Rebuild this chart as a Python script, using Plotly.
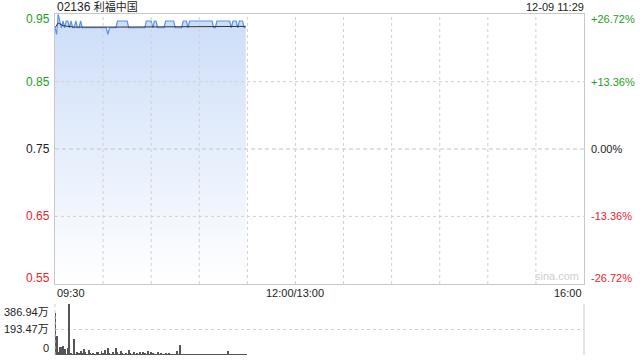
import plotly.graph_objects as go

# ---------------- data ----------------
stock_code = "02136"
stock_name = "利福中国"
timestamp = "12-09 11:29"
prev_close = 0.75
price_ticks = [0.95, 0.85, 0.75, 0.65, 0.55]
pct_labels = ["+26.72%", "+13.36%", "0.00%", "-13.36%", "-26.72%"]
time_labels = ["09:30", "12:00/13:00", "16:00"]
time_label_minutes = [0, 150, 330]
grid_minutes = [30, 60, 90, 120, 150, 180, 210, 240, 270, 300]
session_minutes = 330

# per-minute last price from 09:30 to 11:29
prices = [
    0.93, 0.92, 0.95, 0.94, 0.93, 0.94, 0.93, 0.94, 0.94, 0.93,
    0.94, 0.93, 0.93, 0.94, 0.93, 0.93, 0.94, 0.93, 0.93, 0.93,
    0.93, 0.93, 0.93, 0.93, 0.93, 0.93, 0.93, 0.93, 0.93, 0.93,
    0.93, 0.93, 0.93, 0.92, 0.93, 0.93, 0.93, 0.93, 0.93, 0.94,
    0.94, 0.94, 0.94, 0.94, 0.94, 0.94, 0.93, 0.93, 0.93, 0.93,
    0.93, 0.93, 0.93, 0.93, 0.93, 0.93, 0.93, 0.94, 0.94, 0.94,
    0.94, 0.93, 0.94, 0.94, 0.93, 0.93, 0.93, 0.93, 0.93, 0.94,
    0.94, 0.94, 0.94, 0.94, 0.94, 0.93, 0.93, 0.93, 0.93, 0.93,
    0.94, 0.94, 0.94, 0.93, 0.94, 0.94, 0.94, 0.94, 0.94, 0.94,
    0.94, 0.94, 0.94, 0.94, 0.94, 0.94, 0.94, 0.94, 0.94, 0.93,
    0.93, 0.94, 0.94, 0.94, 0.94, 0.94, 0.94, 0.94, 0.94, 0.94,
    0.93, 0.94, 0.94, 0.94, 0.93, 0.94, 0.94, 0.94, 0.93, 0.93,
]
avg_minutes = [0, 2, 5, 12, 40, 119]
avg_prices = [0.930, 0.937, 0.933, 0.931, 0.931, 0.932]

# per-minute volume, 万
volumes = [
    321, 144, 20, 63, 58, 68, 43, 10, 50, 387,
    18, 8, 121, 10, 25, 12, 30, 18, 43, 25,
    10, 38, 13, 8, 18, 6, 23, 25, 8, 28,
    18, 38, 10, 50, 13, 8, 23, 10, 55, 20,
    8, 28, 13, 6, 13, 8, 38, 18, 8, 25,
    10, 18, 6, 23, 8, 23, 13, 8, 30, 10,
    20, 13, 10, 10, 25, 6, 13, 6, 10, 13,
    6, 15, 6, 8, 10, 6, 30, 8, 76, 8,
    8, 5, 6, 5, 6, 5, 5, 6, 5, 5,
    6, 5, 5, 6, 5, 6, 5, 5, 6, 5,
    5, 6, 5, 5, 6, 5, 8, 6, 30, 6,
    5, 6, 5, 5, 6, 5, 5, 6, 5, 5,
]
vol_ticks = [386.94, 193.47, 0]
vol_tick_text = ["386.94万", "193.47万", "0"]

# ---------------- styles ----------------
FONT = "Liberation Sans, Arial, sans-serif"
CJK = "Liberation Sans, Noto Sans CJK SC, sans-serif"
GREEN = "#1e9e1e"
RED = "#e8262a"
BLACK = "#222222"
GRID = "#d0d0d0"
BORDER = "#c8c8c8"

minutes = list(range(len(prices)))
y_lo = prev_close * (1 - 0.2672)
y_hi = prev_close * (1 + 0.2672)

fig = go.Figure()

fig.add_trace(go.Scatter(
    x=minutes, y=prices, mode="lines",
    line=dict(color="#5b92e8", width=1.2),
    fill="tozeroy",
    fillgradient=dict(type="vertical", start=0.55, stop=0.95,
                      colorscale=[[0, "rgba(255,255,255,1)"], [1, "rgba(204,221,248,1)"]]),
    xaxis="x", yaxis="y", hoverinfo="skip", showlegend=False,
))
fig.add_trace(go.Scatter(
    x=avg_minutes, y=avg_prices, mode="lines",
    line=dict(color="#333333", width=1),
    xaxis="x", yaxis="y", hoverinfo="skip", showlegend=False,
))
fig.add_trace(go.Bar(
    x=minutes, y=volumes, width=0.6,
    marker=dict(color="#555555", line=dict(width=0)),
    xaxis="x2", yaxis="y2", hoverinfo="skip", showlegend=False,
))

ann = []
# title and time stamp
ann.append(dict(text=f"{stock_code} <span style='font-size:11px'>{stock_name}</span>",
                xref="paper", yref="paper", x=0, y=1, yanchor="bottom",
                xanchor="left", showarrow=False, yshift=-2,
                font=dict(family=CJK, size=12, color=BLACK)))
ann.append(dict(text=timestamp, xref="paper", yref="paper", x=1, y=1, yanchor="bottom",
                xanchor="right", showarrow=False, yshift=-1, xshift=2,
                font=dict(family=FONT, size=11, color=BLACK)))

shifts = [-5, 0, 0, 0, 6]
for v, pl, s in zip(price_ticks, pct_labels, shifts):
    col = GREEN if v > prev_close + 1e-9 else (RED if v < prev_close - 1e-9 else BLACK)
    ann.append(dict(text=f"{v:.2f}", xref="paper", yref="y", x=0, y=v, xanchor="right",
                    yanchor="middle", xshift=-3, yshift=s, showarrow=False,
                    font=dict(family=FONT, size=12, color=col)))
    ann.append(dict(text=pl, xref="paper", yref="y", x=1, y=v, xanchor="left",
                    yanchor="middle", xshift=5, yshift=s, showarrow=False,
                    font=dict(family=FONT, size=11, color=col)))

anchors = ["left", "center", "right"]
for t, m, a in zip(time_labels, time_label_minutes, anchors):
    ann.append(dict(text=t, xref="x", yref="paper", x=m, y=0.2082, yanchor="top",
                    xanchor=a, yshift=-1, showarrow=False,
                    font=dict(family=FONT, size=11, color=BLACK)))

vshifts = [-8, 0, 7]
for v, t, s in zip(vol_ticks, vol_tick_text, vshifts):
    ann.append(dict(text=t, xref="paper", yref="y2", x=0, y=v, xanchor="right",
                    yanchor="middle", xshift=-4, yshift=s, showarrow=False,
                    font=dict(family=CJK, size=11, color=BLACK)))

ann.append(dict(text="sina.com", xref="paper", yref="paper", x=0.995, y=0.2082,
                xanchor="right", yanchor="bottom", showarrow=False, yshift=0,
                font=dict(family=FONT, size=11, color="#cfcfcf")))

shapes = [
    dict(type="line", xref="paper", yref="y", x0=0, x1=1, y0=prev_close, y1=prev_close,
         line=dict(color="#c4c4c4", width=1, dash="4px,3px"), layer="above"),
    dict(type="line", xref="paper", yref="y2", x0=1, x1=1, y0=0, y1=vol_ticks[0],
         line=dict(color=BORDER, width=1)),
    dict(type="line", xref="paper", yref="y2", x0=0, x1=0, y0=0, y1=vol_ticks[0],
         line=dict(color=GRID, width=1, dash="dot")),
]
for m in grid_minutes:
    shapes.append(dict(type="line", xref="x", yref="y", x0=m, x1=m, y0=y_lo, y1=y_hi,
                       line=dict(color=GRID, width=1, dash="dot"), layer="above"))
for v in price_ticks[1:-1]:
    if abs(v - prev_close) > 1e-9:
        shapes.append(dict(type="line", xref="paper", yref="y", x0=0, x1=1, y0=v, y1=v,
                           line=dict(color=GRID, width=1, dash="dot"), layer="above"))

fig.update_layout(
    width=640, height=360,
    margin=dict(l=55, r=56, t=14, b=5),
    paper_bgcolor="white", plot_bgcolor="white",
    showlegend=False,
    annotations=ann, shapes=shapes,
    bargap=0,
    xaxis=dict(domain=[0, 1], range=[0, session_minutes], anchor="y",
               showticklabels=False, ticks="", showgrid=False,
               showline=True, mirror=True, linecolor=BORDER, linewidth=1, zeroline=False),
    yaxis=dict(domain=[0.2082, 1], range=[y_lo, y_hi], anchor="x",
               showticklabels=False, ticks="", showgrid=False,
               showline=True, mirror=True, linecolor=BORDER, linewidth=1, zeroline=False),
    xaxis2=dict(domain=[0, 1], range=[0, session_minutes], anchor="y2",
                showticklabels=False, ticks="", showgrid=False, zeroline=False, showline=False),
    yaxis2=dict(domain=[0, 0.1496], range=[0, vol_ticks[0]], anchor="x2",
                tickvals=vol_ticks, showticklabels=False, ticks="",
                showgrid=True, gridcolor=GRID, griddash="dot", gridwidth=1,
                zeroline=False, showline=False),
)

fig.write_html("out.html")
